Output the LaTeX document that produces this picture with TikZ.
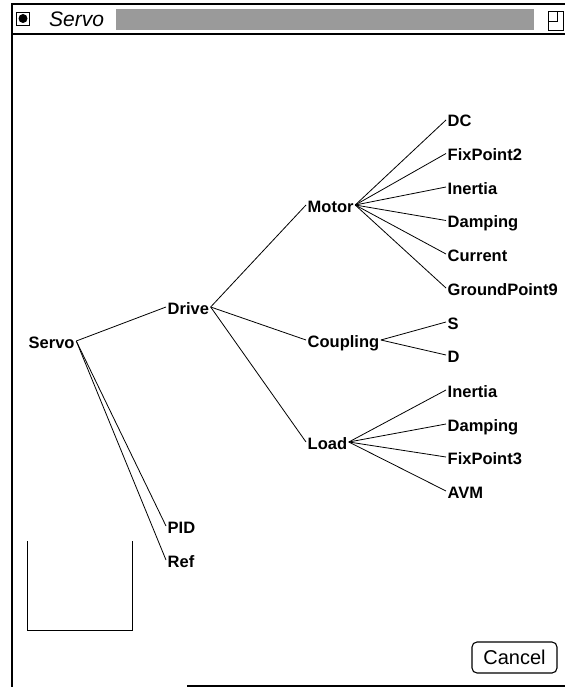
\documentclass[tikz,border=0pt]{standalone}
\usepackage{fontspec}
\setmainfont{Liberation Sans}
\definecolor{Hatch}{HTML}{9A9A9A}
\tikzstyle{Part} = [anchor=base west,
                    inner xsep=1.5pt,
                    inner ysep=0pt,
                    text height=14pt,
                    text depth=0pt,
                    font=\fontsize{16.5}{19}\selectfont\bfseries]
\tikzstyle{Link} = [line width=0.8pt]

\begin{document}
\begin{tikzpicture}[x=1pt, y=-1pt]

    \useasboundingbox (0,0) rectangle (565,687);

    % Window frame and title bar
    \fill [Hatch] (116,9) rectangle (534,30);
    \draw [line width=2.2pt] (12,687) -- (12,4) -- (565,4);
    \draw [line width=2.2pt] (12,34) -- (565,34);
    \draw [line width=1.5pt] (187,686) -- (565,686);
    \node (closebox) at (23,18.5) [draw, line width=0.9pt, minimum size=13pt, inner sep=0pt]{};
    \fill (closebox.center) circle (4.5);
    \node (title) at (49,27) [anchor=base west, inner sep=0pt, font=\fontsize{21}{24}\selectfont\itshape]{Servo};
    \draw [line width=0.9pt] (548,11) rectangle (563,30);
    \draw [line width=0.9pt] (548,11) rectangle (557,21);

    % Tree nodes
    \node (servo) at (27, 348) [Part]{Servo};
    \node (drive) at (166, 314) [Part]{Drive};
    \node (motor) at (306, 212) [Part]{Motor};
    \node (coupling) at (306, 347) [Part]{Coupling};
    \node (load) at (306, 449) [Part]{Load};
    \node (pid) at (166, 533) [Part]{PID};
    \node (ref) at (166, 567) [Part]{Ref};

    % Motor parts
    \node (dc) at (446, 127) [Part]{DC};
    \node (fixpoint2) at (446, 160.5) [Part]{FixPoint2};
    \node (inertiaM) at (446, 194) [Part]{Inertia};
    \node (dampingM) at (446, 227.5) [Part]{Damping};
    \node (current) at (446, 261) [Part]{Current};
    \node (ground) at (446, 295) [Part]{GroundPoint9};

    % Coupling parts
    \node (s) at (446, 329) [Part]{S};
    \node (d) at (446, 362) [Part]{D};

    % Load parts
    \node (inertiaL) at (446, 397) [Part]{Inertia};
    \node (dampingL) at (446, 431) [Part]{Damping};
    \node (fixpoint3) at (446, 464) [Part]{FixPoint3};
    \node (avm) at (446, 498) [Part]{AVM};

    % Lines
    \draw [Link] (servo.east) -- (drive.west);
    \draw [Link] (servo.east) -- (pid.west);
    \draw [Link] (servo.east) -- (ref.west);

    \draw [Link] (drive.east) -- (motor.west);
    \draw [Link] (drive.east) -- (coupling.west);
    \draw [Link] (drive.east) -- (load.west);

    \draw [Link] (motor.east) -- (dc.west);
    \draw [Link] (motor.east) -- (fixpoint2.west);
    \draw [Link] (motor.east) -- (inertiaM.west);
    \draw [Link] (motor.east) -- (dampingM.west);
    \draw [Link] (motor.east) -- (current.west);
    \draw [Link] (motor.east) -- (ground.west);

    \draw [Link] (coupling.east) -- (s.west);
    \draw [Link] (coupling.east) -- (d.west);

    \draw [Link] (load.east) -- (inertiaL.west);
    \draw [Link] (load.east) -- (dampingL.west);
    \draw [Link] (load.east) -- (fixpoint3.west);
    \draw [Link] (load.east) -- (avm.west);

    % Empty panel and button
    \draw [line width=0.8pt] (27,541) -- (27,630) -- (132,630) -- (132,541);
    \node (cancel) at (514.5,657.5) [draw, rounded corners=5pt, line width=1.1pt, minimum width=85pt, minimum height=31pt, inner sep=0pt, font=\fontsize{20}{23}\selectfont]{Cancel};

\end{tikzpicture}
\end{document}
